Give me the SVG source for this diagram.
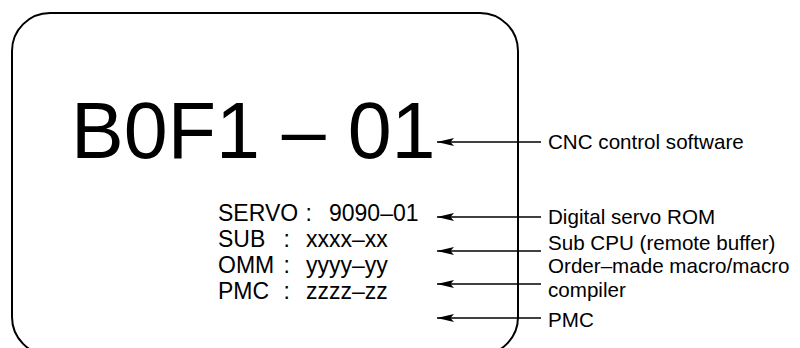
<svg xmlns="http://www.w3.org/2000/svg" width="800" height="348" viewBox="0 0 800 348">
  <style>
    .big { font-family: "Liberation Sans", Arial, sans-serif; font-size: 79px; fill: #000; }
    .mid { font-family: "Liberation Sans", Arial, sans-serif; font-size: 23px; fill: #000; }
    .lbl { font-family: "Liberation Sans", Arial, sans-serif; font-size: 20.6px; fill: #000; }
    .conn { stroke: #000; stroke-width: 1.4; fill: none; marker-end: url(#ah); }
  </style>
  <defs>
    <marker id="ah" markerUnits="userSpaceOnUse" markerWidth="18" markerHeight="10" refX="17" refY="5" orient="auto">
      <path d="M17,5 L0,1 L3.5,5 L0,9 Z" fill="#000"/>
    </marker>
  </defs>
  <rect width="800" height="348" fill="#fff"/>
  <g id="display">
    <rect x="12" y="13" width="506" height="342" rx="38" ry="38" fill="none" stroke="#000" stroke-width="2"/>
    <text class="big" x="71" y="158">B0F1 – 01</text>
    <text class="mid" x="218" y="221">SERVO</text>
    <text class="mid" x="305.5" y="221">:</text>
    <text class="mid" x="329" y="221">9090–01</text>
    <text class="mid" x="218" y="247">SUB</text>
    <text class="mid" x="283.5" y="247">:</text>
    <text class="mid" x="306" y="247">xxxx–xx</text>
    <text class="mid" x="218" y="273">OMM</text>
    <text class="mid" x="283.5" y="273">:</text>
    <text class="mid" x="306" y="273">yyyy–yy</text>
    <text class="mid" x="218" y="299">PMC</text>
    <text class="mid" x="283.5" y="299">:</text>
    <text class="mid" x="306" y="299">zzzz–zz</text>
  </g>
  <g id="connectors">
    <line class="conn" x1="541" y1="142" x2="437" y2="142"/>
    <line class="conn" x1="541" y1="217" x2="437" y2="217"/>
    <line class="conn" x1="541" y1="251" x2="437" y2="251"/>
    <line class="conn" x1="541" y1="284" x2="437" y2="284"/>
    <line class="conn" x1="541" y1="318" x2="437" y2="318"/>
  </g>
  <g id="label-cnc"><text class="lbl" x="548" y="149">CNC control software</text></g>
  <g id="label-servo"><text class="lbl" x="548" y="224">Digital servo ROM</text></g>
  <g id="label-sub"><text class="lbl" x="548" y="250">Sub CPU (remote buffer)</text></g>
  <g id="label-omm">
    <text class="lbl" x="548" y="273">Order–made macro/macro</text>
    <text class="lbl" x="548" y="297">compiler</text>
  </g>
  <g id="label-pmc"><text class="lbl" x="548" y="327">PMC</text></g>
</svg>
